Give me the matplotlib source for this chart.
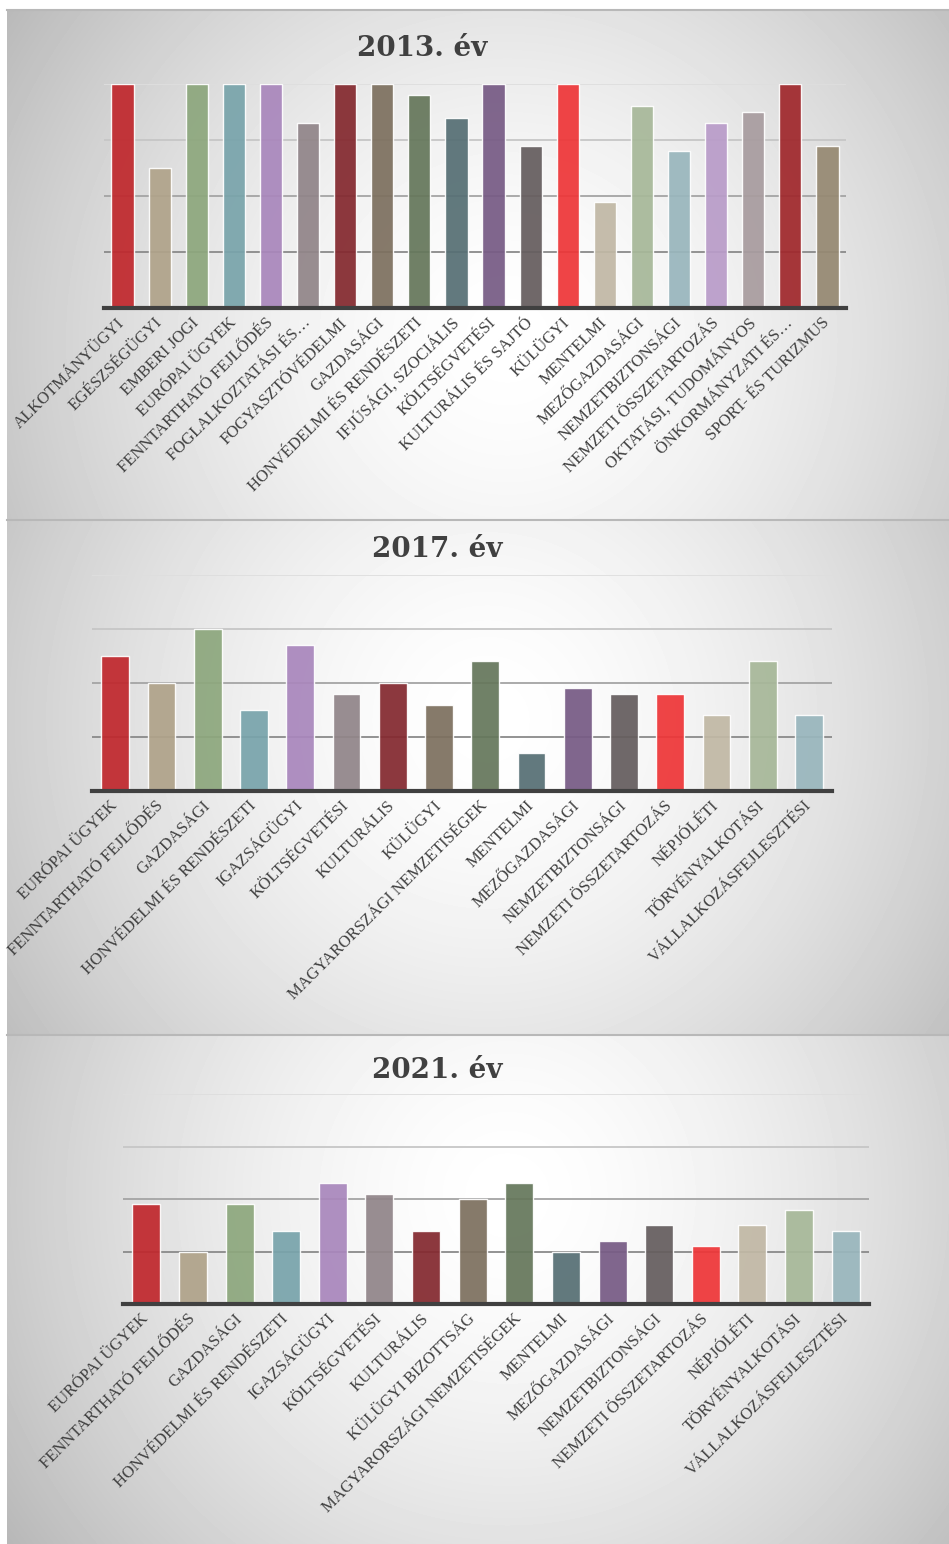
import matplotlib
matplotlib.use("Agg")
import matplotlib.pyplot as plt
import numpy as np

# --- data ---
labels_2013 = ["ALKOTMÁNYÜGYI", "EGÉSZSÉGÜGYI", "EMBERI JOGI", "EURÓPAI ÜGYEK",
               "FENNTARTHATÓ FEJLŐDÉS", "FOGLALKOZTATÁSI ÉS…", "FOGYASZTÓVÉDELMI",
               "GAZDASÁGI", "HONVÉDELMI ÉS RENDÉSZETI", "IFJÚSÁGI, SZOCIÁLIS",
               "KÖLTSÉGVETÉSI", "KULTURÁLIS ÉS SAJTÓ", "KÜLÜGYI", "MENTELMI",
               "MEZŐGAZDASÁGI", "NEMZETBIZTONSÁGI", "NEMZETI ÖSSZETARTOZÁS",
               "OKTATÁSI, TUDOMÁNYOS", "ÖNKORMÁNYZATI ÉS…", "SPORT- ÉS TURIZMUS"]
values_2013 = [4.0, 2.5, 4.0, 4.0, 4.0, 3.3, 4.0, 4.0, 3.8, 3.4,
               4.0, 2.9, 4.0, 1.9, 3.6, 2.8, 3.3, 3.5, 4.0, 2.9]

labels_2017 = ["EURÓPAI ÜGYEK", "FENNTARTHATÓ FEJLŐDÉS", "GAZDASÁGI",
               "HONVÉDELMI ÉS RENDÉSZETI", "IGAZSÁGÜGYI", "KÖLTSÉGVETÉSI",
               "KULTURÁLIS", "KÜLÜGYI", "MAGYARORSZÁGI NEMZETISÉGEK", "MENTELMI",
               "MEZŐGAZDASÁGI", "NEMZETBIZTONSÁGI", "NEMZETI ÖSSZETARTOZÁS",
               "NÉPJÓLÉTI", "TÖRVÉNYALKOTÁSI", "VÁLLALKOZÁSFEJLESZTÉSI"]
values_2017 = [2.5, 2.0, 3.0, 1.5, 2.7, 1.8, 2.0, 1.6, 2.4, 0.7,
               1.9, 1.8, 1.8, 1.4, 2.4, 1.4]

labels_2021 = ["EURÓPAI ÜGYEK", "FENNTARTHATÓ FEJLŐDÉS", "GAZDASÁGI",
               "HONVÉDELMI ÉS RENDÉSZETI", "IGAZSÁGÜGYI", "KÖLTSÉGVETÉSI",
               "KULTURÁLIS", "KÜLÜGYI BIZOTTSÁG", "MAGYARORSZÁGI NEMZETISÉGEK",
               "MENTELMI", "MEZŐGAZDASÁGI", "NEMZETBIZTONSÁGI",
               "NEMZETI ÖSSZETARTOZÁS", "NÉPJÓLÉTI", "TÖRVÉNYALKOTÁSI",
               "VÁLLALKOZÁSFEJLESZTÉSI"]
values_2021 = [1.9, 1.0, 1.9, 1.4, 2.3, 2.1, 1.4, 2.0, 2.3, 1.0,
               1.2, 1.5, 1.1, 1.5, 1.8, 1.4]

palette = ["#C0282D", "#B0A38A", "#8DA77D", "#79A4AB", "#A987BC", "#918589",
           "#84292F", "#7D705F", "#65775B", "#566F74", "#775B85", "#655D5E",
           "#EE3638", "#C1B8A5", "#A7B899", "#99B6BD", "#B99CC9", "#A89C9F",
           "#A0282C", "#968972"]

W, H = 949, 1544
fig = plt.figure(figsize=(W / 100, H / 100), dpi=100)


def px_rect(x0, y0, x1, y1):
    # pixel box (top-left origin) -> figure fraction rect
    return [x0 / W, 1 - y1 / H, (x1 - x0) / W, (y1 - y0) / H]


def background(y0, y1, cx, cy):
    bg = fig.add_axes(px_rect(7, y0, W, y1), zorder=-5)
    h = y1 - y0
    yy, xx = np.mgrid[0:h, 0:W - 7]
    d = np.hypot((xx - cx) / 580, (yy - cy) / 580)
    g = 1 - 0.26 * np.clip(d, 0, 1.25) ** 1.6
    bg.imshow(g, cmap="gray", vmin=0, vmax=1, aspect="auto")
    bg.set_xticks([])
    bg.set_yticks([])
    for s in ["left", "right", "bottom"]:
        bg.spines[s].set_visible(False)
    bg.spines["top"].set_color("#b8b8b8")
    bg.spines["top"].set_linewidth(1.5)


def panel(rect, labels, values, title, title_xy):
    ax = fig.add_axes(px_rect(*rect))
    ax.patch.set_alpha(0)
    x = np.arange(len(labels))
    ax.bar(x, values, width=0.6, color=palette[:len(labels)], alpha=0.93,
           edgecolor=(1, 1, 1, 0.45), linewidth=1.0, zorder=3)
    ax.set_xlim(-0.5, len(labels) - 0.5)
    ax.set_ylim(0, 4)
    ax.set_yticks([1, 2, 3, 4])
    ax.set_yticklabels([])
    ax.yaxis.grid(True, linewidth=1.3)
    ax.set_axisbelow(True)
    for line, c in zip(ax.get_ygridlines(), ["#8a8a8a", "#a4a4a4", "#c6c6c6", "#dedede"]):
        line.set_color(c)
    for s in ["left", "right", "top"]:
        ax.spines[s].set_visible(False)
    ax.spines["bottom"].set_color("#404040")
    ax.spines["bottom"].set_linewidth(3)
    ax.spines["bottom"].set_zorder(5)
    ax.tick_params(axis="both", length=0)
    ax.tick_params(axis="x", pad=9)
    ax.set_xticks(x)
    ax.set_xticklabels(labels, rotation=45, ha="right", va="center",
                       rotation_mode="anchor", fontfamily="Liberation Serif",
                       fontsize=12, color="#404040")
    fig.text(title_xy[0] / W, 1 - title_xy[1] / H, title, ha="center", va="center",
             fontfamily="DejaVu Serif", fontweight="bold", fontsize=20, color="#404040")
    return ax


background(10, 520, 500, 330)
background(520, 1035, 480, 200)
background(1035, 1544, 500, 160)

panel((104, 84, 846, 308), labels_2013, values_2013, "2013. év", (422, 49))
panel((92, 575, 832, 791), labels_2017, values_2017, "2017. év", (437, 550))
panel((123, 1094, 869, 1304), labels_2021, values_2021, "2021. év", (437, 1071))

fig.savefig("out.png", dpi=100)
